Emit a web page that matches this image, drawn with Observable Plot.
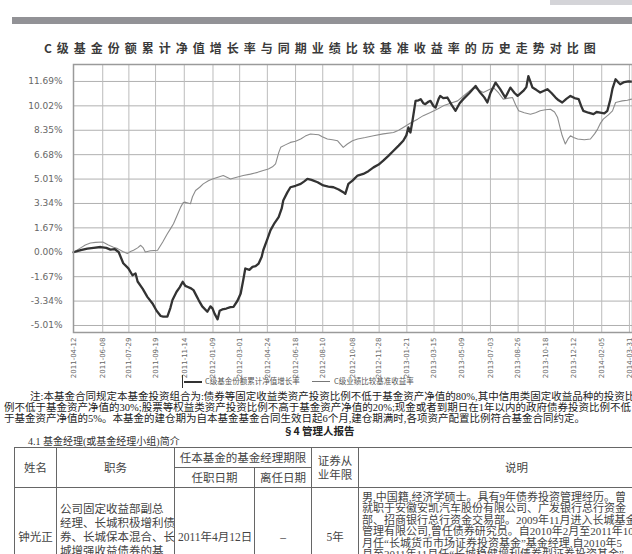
<!DOCTYPE html>
<html><head><meta charset="utf-8">
<script src="https://cdn.jsdelivr.net/npm/d3@7"></script>
<script src="https://cdn.jsdelivr.net/npm/@observablehq/plot@0.6"></script>
<style>
html,body{margin:0;padding:0;width:632px;height:554px;overflow:hidden;background:#fff;}
body{position:relative;font-family:"Liberation Serif","Noto Sans CJK SC",serif;color:#222;}
.abs{position:absolute;white-space:nowrap;}
.legend{font-family:"Noto Sans CJK SC",sans-serif;font-size:7.5px;line-height:10px;color:#555;}
.note{font-size:10.5px;line-height:11px;}
table{border-collapse:collapse;table-layout:fixed;font-size:11.5px;color:#444;}
td{border:1px solid #666;padding:0 3px;text-align:center;vertical-align:middle;line-height:14px;overflow:hidden;white-space:nowrap;}
</style></head><body>
<div class="abs" style="left:550px;top:0;width:82px;height:5px;background:#d4d4d8"></div>
<div class="abs" style="left:12px;top:17px;width:620px;height:7px;background:#929296"></div>
<div class="abs" id="title" style="left:44px;top:40px;font-family:'Noto Sans CJK SC',sans-serif;font-weight:bold;font-size:12px;line-height:16px;letter-spacing:5px;color:#3a3a3a"></div>
<div id="chart" class="abs" style="left:0;top:0"></div>
<div class="abs" style="left:182px;top:375px;width:1px;height:13px;background:#333"></div>
<div class="abs" style="left:184px;top:381px;width:18px;height:2px;background:#333"></div>
<div class="abs legend" id="leg1" style="left:205px;top:376px"></div>
<div class="abs" style="left:312px;top:381px;width:18px;height:1px;background:#777"></div>
<div class="abs legend" id="leg2" style="left:334px;top:376px"></div>
<div class="abs note" style="left:30px;top:391px">注:本基金合同规定本基金投资组合为:债券等固定收益类资产投资比例不低于基金资产净值的80%,其中信用类固定收益品种的投资比</div>
<div class="abs note" style="left:4px;top:402px">例不低于基金资产净值的30%;股票等权益类资产投资比例不高于基金资产净值的20%;现金或者到期日在1年以内的政府债券投资比例不低</div>
<div class="abs note" style="left:4px;top:413px">于基金资产净值的5%。本基金的建仓期为自本基金基金合同生效日起6个月,建仓期满时,各项资产配置比例符合基金合同约定。</div>
<div class="abs" style="left:283px;top:425px;font-family:'Noto Sans CJK SC',sans-serif;font-weight:bold;font-size:10.5px;line-height:12px;color:#222">§4 管理人报告</div>
<div class="abs" style="left:28px;top:436px;font-size:10px;line-height:11px;color:#333">4.1 基金经理(或基金经理小组)简介</div>
<table class="abs" style="left:14px;top:447px;width:660px">
<colgroup><col style="width:42px"><col style="width:118px"><col style="width:80px"><col style="width:57px"><col style="width:47px"><col style="width:316px"></colgroup>
<tr style="height:20px"><td rowspan="2">姓名</td><td rowspan="2">职务</td><td colspan="2">任本基金的基金经理期限</td><td rowspan="2">证券从<br>业年限</td><td rowspan="2">说明</td></tr>
<tr style="height:20px"><td>任职日期</td><td>离任日期</td></tr>
<tr style="height:98px"><td>钟光正</td>
<td style="text-align:left">公司固定收益部副总<br>经理、长城积极增利债<br>券、长城保本混合、长<br>城增强收益债券的基<br>金经理</td>
<td>2011年4月12日</td><td>–</td><td>5年</td>
<td style="text-align:left;vertical-align:top;line-height:11.4px;font-size:11px;padding-top:4px">男,中国籍,经济学硕士。具有9年债券投资管理经历。曾<br>就职于安徽安凯汽车股份有限公司、广发银行总行资金<br>部、招商银行总行资金交易部。2009年11月进入长城基金<br>管理有限公司,曾任债券研究员。自2010年2月至2011年10<br>月任“长城货币市场证券投资基金”基金经理,自2010年5<br>月至2011年11月任“长城稳健增利债券型证券投资基金”<br>基金经理,自2011年4月起任本基金基金经理。</td></tr>
</table>
<script>
const titleText = "C级基金份额累计净值增长率与同期业绩比较基准收益率的历史走势对比图";
const legendNames = ["C级基金份额累计净值增长率", "C级业绩比较基准收益率"];
const startDate = "2011-04-12";
const endDay = 1090;
const xTickLabels = ["2011-04-12","2011-06-08","2011-07-29","2011-09-19","2011-11-14","2012-01-09","2012-03-01","2012-04-24","2012-06-18","2012-08-10","2012-10-08","2012-11-28","2013-01-21","2013-03-15","2013-05-09","2013-07-03","2013-08-26","2013-10-18","2013-12-12","2014-02-05","2014-03-31"];
const yTicks = [-5.01,-3.34,-1.67,0,1.67,3.34,5.01,6.68,8.35,10.02,11.69];

// days since 2011-04-12 and cumulative return (%)
const fundDays = [0,14,27,39,53,64,72,80,88,97,107,115,121,125,135,144,154,162,170,175,183,189,193,201,207,213,218,222,228,234,240,244,251,261,267,271,275,281,285,290,298,306,312,320,326,331,335,343,349,355,361,367,370,378,384,392,400,406,409,417,423,433,443,450,456,464,476,487,497,507,517,526,530,536,544,554,565,575,585,595,604,614,624,634,643,649,653,657,661,667,673,677,682,686,692,696,702,706,712,715,721,729,737,745,753,760,772,784,793,801,807,813,823,832,842,852,860,866,877,883,887,895,903,910,924,932,940,946,953,961,969,977,985,990,994,1004,1014,1020,1027,1035,1041,1047,1051,1057,1063,1066,1074,1082,1088];
const fundValues = [0,0.15,0.25,0.30,0.36,0.30,0.18,0.22,0.02,-0.75,-1.10,-1.57,-1.45,-2.00,-2.50,-3.05,-3.50,-4.00,-4.36,-4.41,-4.41,-3.80,-3.27,-2.70,-2.40,-2.02,-2.30,-2.36,-2.45,-2.59,-3.00,-3.27,-3.70,-4.07,-3.70,-3.84,-4.20,-4.59,-4.00,-3.91,-3.85,-3.75,-3.73,-3.30,-2.82,-1.90,-1.11,-1.20,-1.00,-0.95,-0.77,-0.30,0.14,0.90,1.50,2.00,2.41,3.00,3.54,4.10,4.45,4.55,4.68,4.85,5.02,4.95,4.79,4.57,4.50,4.45,4.30,4.11,4.00,4.68,4.90,5.25,5.36,5.55,5.81,6.00,6.27,6.60,6.95,7.30,7.63,8.00,8.54,8.20,9.00,10.36,10.40,10.48,10.20,10.14,10.30,10.36,10.00,9.90,10.50,10.70,10.55,10.59,10.10,9.68,10.20,10.48,10.90,11.38,10.93,10.60,10.25,10.90,11.61,11.16,10.59,11.27,10.90,10.70,11.04,11.30,12.06,11.27,11.10,10.93,11.16,10.90,10.59,10.40,10.25,10.50,10.70,10.55,10.48,10.00,9.68,9.55,9.45,9.60,9.56,9.50,9.68,10.48,11.20,11.84,11.60,11.50,11.65,11.70,11.68];

const benchDays = [0,14,23,33,43,57,68,78,86,96,105,111,117,125,131,136,140,150,164,174,183,189,195,203,209,214,218,228,232,238,246,253,263,271,283,292,306,320,331,345,359,370,380,388,394,400,404,413,423,433,443,452,462,478,485,495,505,515,526,534,544,554,569,585,604,624,634,643,657,671,682,696,710,721,735,749,764,780,790,799,809,819,829,838,848,856,862,868,879,891,901,910,920,930,938,944,949,953,959,965,969,975,983,996,1008,1016,1022,1027,1033,1043,1051,1057,1063,1070,1080,1088];
const benchValues = [0,0.30,0.50,0.63,0.68,0.70,0.50,0.35,0.25,0.05,-0.09,0.05,0.14,0.30,0.48,0.30,0.02,0.10,0.14,0.70,1.27,1.60,1.95,2.60,3.09,3.40,3.43,3.32,3.80,4.23,4.45,4.68,4.90,5.02,5.15,5.25,5.02,5.15,5.25,5.35,5.47,5.60,5.70,5.85,6.05,6.80,7.18,7.35,7.52,7.60,7.75,7.95,8.09,8.04,7.90,7.75,7.70,7.63,7.18,7.41,7.63,7.75,7.85,7.97,8.10,8.20,8.35,8.54,8.85,9.11,9.35,9.56,9.80,10.02,10.20,10.36,10.80,11.27,11.10,10.93,11.10,11.27,10.90,10.48,10.55,10.59,10.10,9.68,9.55,9.45,9.55,9.68,9.75,9.79,9.60,9.22,8.50,7.97,7.41,7.80,7.97,7.85,7.75,7.70,7.75,8.10,8.43,8.80,9.11,9.40,9.68,10.25,10.30,10.36,10.40,10.48];

document.getElementById("title").textContent = titleText;
document.getElementById("leg1").textContent = legendNames[0];
document.getElementById("leg2").textContent = legendNames[1];

const parse = d3.timeParse("%Y-%m-%d");
const start = parse(startDate);
const toDate = d => d3.timeDay.offset(start, d);
const fund = fundDays.map((d, i) => ({date: toDate(d), value: fundValues[i]}));
const bench = benchDays.map((d, i) => ({date: toDate(d), value: benchValues[i]}));
const xTicks = xTickLabels.map(parse);
const fmt = d3.timeFormat("%Y-%m-%d");

const chart = Plot.plot({
  width: 632, height: 380,
  marginTop: 64, marginBottom: 48, marginLeft: 73, marginRight: 0,
  style: {background: "transparent", color: "#555"},
  x: {type: "time", domain: [start, toDate(endDay)]},
  y: {domain: [-5.49, 12.85]},
  marks: [
    Plot.ruleY(yTicks, {stroke: "#b0b0b0", strokeWidth: 1}),
    Plot.ruleX(xTicks, {stroke: "#bcbcbc", strokeWidth: 1}),
    Plot.line(bench, {x: "date", y: "value", stroke: "#8c8c8c", strokeWidth: 1.1}),
    Plot.line(fund, {x: "date", y: "value", stroke: "#333", strokeWidth: 2.3}),
    Plot.frame({stroke: "#9a9a9a", strokeWidth: 1.5}),
    Plot.axisX(xTicks, {tickSize: 0, tickPadding: 5, tickRotate: -90, tickFormat: fmt, fontSize: 7, fill: "#666", label: null, fontFamily: "DejaVu Sans"}),
    Plot.axisY(yTicks, {tickSize: 0, tickPadding: 11, tickFormat: d => d.toFixed(2) + "%", fontSize: 9, fill: "#666", label: null, fontFamily: "DejaVu Sans"})
  ]
});
document.getElementById("chart").appendChild(chart);
</script>
</body></html>
